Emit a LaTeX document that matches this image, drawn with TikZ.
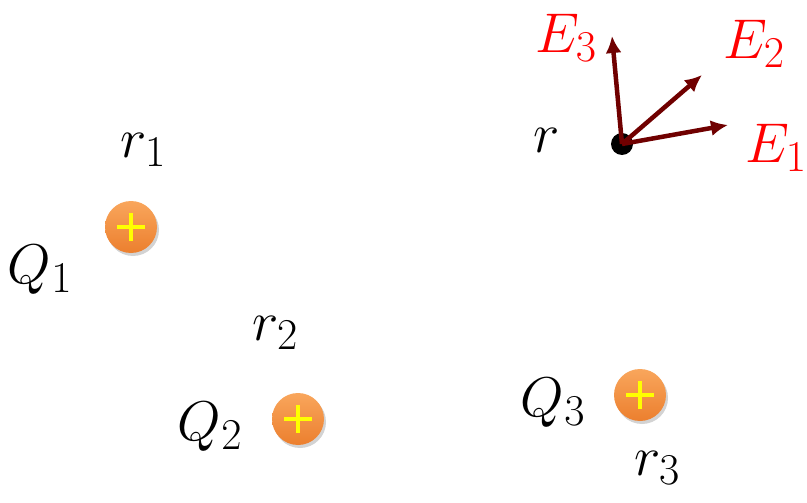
\RequirePackage{fix-cm}
\documentclass[tikz,border=0pt]{standalone}
\usepackage{amsmath}
\usetikzlibrary{shadows, arrows.meta}
\DeclareMathSizes{56}{56}{44}{34}
\definecolor{ink}{HTML}{000000}
\definecolor{fieldred}{HTML}{FF0000}
\definecolor{arrowred}{HTML}{700000}
\definecolor{balltop}{HTML}{F9A65C}
\definecolor{ballbot}{HTML}{EC7F2E}
\definecolor{plusyel}{HTML}{FFFF00}
\newcommand{\figfontsize}{\fontsize{56}{64}\selectfont}
\tikzset{
  every picture/.style = {font=\figfontsize, line join=round},
  charge/.style        = {circle, minimum size=52pt, inner sep=0pt,
                          top color=balltop, bottom color=ballbot,
                          drop shadow={opacity=0.35, shadow xshift=2pt, shadow yshift=-3pt}},
  plus/.style          = {line width=4pt, plusyel},
  field/.style         = {line width=4.5pt, arrowred, -{Latex[length=17pt, width=16pt]}},
  lbl/.style           = {inner sep=0pt, ink},
  elbl/.style          = {inner sep=0pt, text=fieldred},
}

\begin{document}
\begin{tikzpicture}[x=1pt, y=-1pt]
  \useasboundingbox (0,0) rectangle (807,503);
  \def\P{14}   % half length of the plus sign

  % ---------- the three point charges ----------------------------------------
  \node[charge] (q1) at (131,227) {};
  \node[charge] (q2) at (298,419) {};
  \node[charge] (q3) at (640,395) {};
  \foreach \q in {q1,q2,q3}{
    \draw[plus] ([xshift=-\P pt]\q.center) -- ([xshift=\P pt]\q.center);
    \draw[plus] ([yshift=-\P pt]\q.center) -- ([yshift=\P pt]\q.center);
  }

  \node[lbl] (Q1) at (40,270)  {$Q_1$};
  \node[lbl] (r1) at (143,150) {$r_1$};
  \node[lbl] (Q2) at (210,427) {$Q_2$};
  \node[lbl] (r2) at (275,333) {$r_2$};
  \node[lbl] (Q3) at (553,403) {$Q_3$};
  \node[lbl] (r3) at (657,468) {$r_3$};

  % ---------- the field point and its three contributions --------------------
  \node[circle, fill=ink, minimum size=22pt, inner sep=0pt] (pt) at (622,144) {};
  \node[lbl] (r) at (547,140) {$r$};

  \coordinate (t1) at (728,125);
  \coordinate (t2) at (702,75);
  \coordinate (t3) at (612,36);
  \draw[field] (pt.center) -- (t1);
  \draw[field] (pt.center) -- (t2);
  \draw[field] (pt.center) -- (t3);

  \node[elbl] (E1) at (776,148) {$E_1$};
  \node[elbl] (E2) at (754,44)  {$E_2$};
  \node[elbl] (E3) at (566,38)  {$E_3$};
\end{tikzpicture}
\end{document}
